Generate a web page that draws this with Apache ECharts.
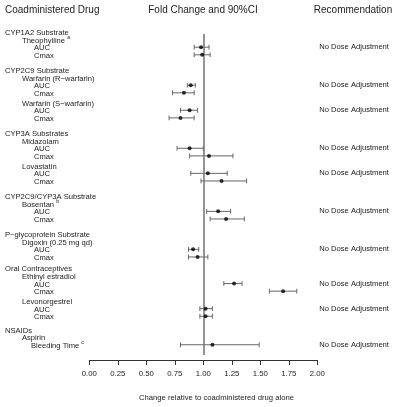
<!DOCTYPE html>
<html>
<head>
<meta charset="utf-8">
<script src="https://cdn.jsdelivr.net/npm/echarts@6/dist/echarts.min.js"></script>
<style>html,body{margin:0;padding:0;background:#fff}#c{width:400px;height:407px}</style>
</head>
<body>
<div id="c"></div>
<script>
// ---- data ----
const classes = ['CYP1A2 Substrate', 'CYP2C9 Substrate', 'CYP3A Substrates', 'CYP2C9/CYP3A Substrate',
  'P\u2212glycoprotein Substrate', 'Oral Contraceptives', 'NSAIDs'];
const drugs = ['Theophylline', 'Warfarin (R\u2212warfarin)', 'Warfarin (S\u2212warfarin)', 'Midazolam', 'Lovastatin',
  'Bosentan', 'Digoxin (0.25 mg qd)', 'Ethinyl estradiol', 'Levonorgestrel', 'Aspirin'];
const drugClass = [0, 1, 1, 2, 2, 3, 4, 5, 5, 6];
const drugNote = ['a', '', '', '', '', 'b', '', '', '', ''];
const recommendation = ['No Dose Adjustment', 'No Dose Adjustment', 'No Dose Adjustment', 'No Dose Adjustment',
  'No Dose Adjustment', 'No Dose Adjustment', 'No Dose Adjustment', 'No Dose Adjustment', 'No Dose Adjustment',
  'No Dose Adjustment'];
const metricDrug = [0, 0, 1, 1, 2, 2, 3, 3, 4, 4, 5, 5, 6, 6, 7, 7, 8, 8, 9];
const metricName = ['AUC', 'Cmax', 'AUC', 'Cmax', 'AUC', 'Cmax', 'AUC', 'Cmax', 'AUC', 'Cmax', 'AUC', 'Cmax',
  'AUC', 'Cmax', 'AUC', 'Cmax', 'AUC', 'Cmax', 'Bleeding Time'];
const metricNote = ['', '', '', '', '', '', '', '', '', '', '', '', '', '', '', '', '', '', 'c'];
const estimate = [0.98, 0.99, 0.89, 0.83, 0.88, 0.80, 0.88, 1.05, 1.04, 1.16, 1.13, 1.20, 0.91, 0.95, 1.27, 1.70, 1.02, 1.02, 1.08];
const ciLow    = [0.92, 0.92, 0.86, 0.73, 0.80, 0.70, 0.77, 0.88, 0.89, 0.98, 1.03, 1.06, 0.87, 0.87, 1.18, 1.58, 0.97, 0.97, 0.80];
const ciHigh   = [1.05, 1.06, 0.93, 0.92, 0.95, 0.92, 1.00, 1.26, 1.21, 1.38, 1.24, 1.36, 0.96, 1.04, 1.34, 1.82, 1.08, 1.08, 1.49];
const xTicks = [0, 0.25, 0.5, 0.75, 1, 1.25, 1.5, 1.75, 2];
const referenceValue = 1;

// ---- layout (row units) ----
const classGap = [0, 1, 1, 1, 1, 0.5, 0.75];
const drugGap = 0.3;
const indent = [5, 22, 34, 31];
const FONT = 'Liberation Sans, Arial, Helvetica, sans-serif';

const textRows = [];   // [x-dummy, pos, text, level, note]
const barRows = [];    // [lo, hi, pos]
const pointRows = [];  // [est, pos]
const recRows = [];    // [x, pos, text]
let pos = 0;
classes.forEach((c, ci) => {
  if (ci > 0) pos += 1 + classGap[ci];
  textRows.push([0, pos, c, 0, '']);
  let first = true;
  drugs.forEach((d, di) => {
    if (drugClass[di] !== ci) return;
    pos += first ? 1 : 1 + drugGap;
    first = false;
    textRows.push([0, pos, d, 1, drugNote[di]]);
    let firstMetric = true;
    metricDrug.forEach((md, mi) => {
      if (md !== di) return;
      pos += 1;
      const name = metricName[mi];
      textRows.push([0, pos, name, name === 'Bleeding Time' ? 3 : 2, metricNote[mi]]);
      barRows.push([ciLow[mi], ciHigh[mi], pos]);
      pointRows.push([estimate[mi], pos]);
      if (firstMetric) recRows.push([2, pos, recommendation[di]]);
      firstMetric = false;
    });
  });
});

const gridTop = 32, gridBottom = 47;
const yMax = (407 - gridBottom - gridTop) / 7.6;

const chart = echarts.init(document.getElementById('c'), null, {renderer: 'canvas'});
chart.setOption({
  animation: false,
  backgroundColor: '#fff',
  grid: {left: 89.3, right: 82.7, top: gridTop, bottom: gridBottom, containLabel: false},
  xAxis: {
    type: 'value', min: 0, max: 2, interval: 0.25,
    axisLine: {show: true, onZero: false, lineStyle: {color: '#333', width: 1}},
    axisTick: {show: true, length: 5, lineStyle: {color: '#333'}},
    splitLine: {show: false},
    axisLabel: {margin: 10, fontSize: 7.8, color: '#222', fontFamily: FONT,
      formatter: v => v.toFixed(2)}
  },
  yAxis: {type: 'value', inverse: true, min: 0, max: yMax, show: false},
  graphic: [
    {type: 'text', x: 5, y: 10, style: {text: 'Coadministered Drug', fontSize: 10, fontFamily: FONT, fill: '#222', align: 'left', verticalAlign: 'middle'}},
    {type: 'text', x: 203, y: 10, style: {text: 'Fold Change and 90%CI', fontSize: 10, fontFamily: FONT, fill: '#222', align: 'center', verticalAlign: 'middle'}},
    {type: 'text', x: 353, y: 10, style: {text: 'Recommendation', fontSize: 10, fontFamily: FONT, fill: '#222', align: 'center', verticalAlign: 'middle'}},
    {type: 'text', x: 216.5, y: 398, style: {text: 'Change relative to coadministered drug alone', fontSize: 7.7, fontFamily: FONT, fill: '#222', align: 'center', verticalAlign: 'middle'}}
  ],
  series: [
    {
      type: 'custom', name: 'labels', clip: false, silent: true,
      encode: {x: 0, y: 1},
      data: textRows,
      renderItem: (params, api) => {
        const r = textRows[params.dataIndex];
        const y = api.coord([0, r[1]])[1];
        const txt = r[4] ? '{n|' + r[2] + '} {s|' + r[4] + '}' : '{n|' + r[2] + '}';
        return {
          type: 'text', x: indent[r[3]], y: y,
          style: {
            text: txt, align: 'left', verticalAlign: 'middle', fill: '#222', fontFamily: FONT, fontSize: 7.6,
            rich: {
              n: {fontSize: 7.6, fontFamily: FONT, fill: '#222', lineHeight: 10, verticalAlign: 'bottom'},
              s: {fontSize: 5.2, fontFamily: FONT, fill: '#222', lineHeight: 10, verticalAlign: 'top'}
            }
          }
        };
      }
    },
    {
      type: 'custom', name: 'ci', silent: true,
      encode: {x: [0, 1], y: 2},
      data: barRows,
      renderItem: (params, api) => {
        const p1 = api.coord([api.value(0), api.value(2)]);
        const p2 = api.coord([api.value(1), api.value(2)]);
        const h = 2.4;
        const st = {stroke: '#666', lineWidth: 1};
        return {
          type: 'group',
          children: [
            {type: 'line', shape: {x1: p1[0], y1: p1[1], x2: p2[0], y2: p2[1]}, style: st},
            {type: 'line', shape: {x1: p1[0], y1: p1[1] - h, x2: p1[0], y2: p1[1] + h}, style: st},
            {type: 'line', shape: {x1: p2[0], y1: p2[1] - h, x2: p2[0], y2: p2[1] + h}, style: st}
          ]
        };
      }
    },
    {
      type: 'scatter', name: 'estimate', silent: true,
      symbol: 'circle', symbolSize: 4,
      itemStyle: {color: '#000'},
      data: pointRows,
      z: 5,
      markLine: {
        silent: true, symbol: 'none', animation: false,
        label: {show: false},
        lineStyle: {color: '#7a7a7a', width: 1.6, type: 'solid'},
        data: [[{coord: [referenceValue, 0.26]}, {coord: [referenceValue, 42.5]}]]
      }
    },
    {
      type: 'custom', name: 'recommendation', clip: false, silent: true,
      encode: {x: 0, y: 1},
      data: recRows,
      renderItem: (params, api) => {
        const r = recRows[params.dataIndex];
        const p = api.coord([r[0], r[1]]);
        return {
          type: 'text', x: p[0] + 2, y: p[1],
          style: {text: r[2], align: 'left', verticalAlign: 'middle', fill: '#222', fontFamily: FONT, fontSize: 7.6}
        };
      }
    }
  ]
});
</script>
</body>
</html>
